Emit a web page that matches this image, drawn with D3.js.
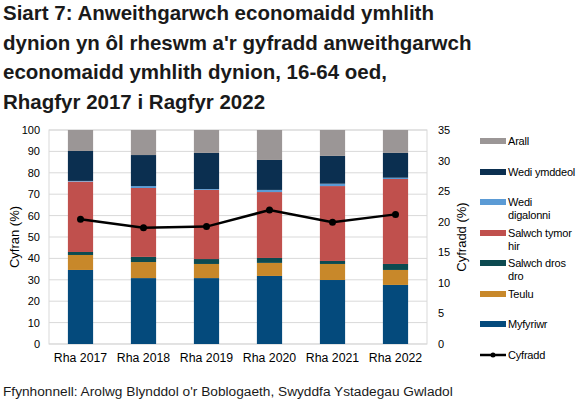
<!DOCTYPE html>
<html>
<head>
<meta charset="utf-8">
<script src="https://cdn.jsdelivr.net/npm/d3@7.9.0/dist/d3.min.js"></script>
<style>
  body { margin: 0; background: #fff; }
  svg { font-family: "Liberation Sans", Arial, sans-serif; }
</style>
</head>
<body>
<svg id="chart" width="584" height="414"></svg>
<script>
// data
const years = ["Rha 2017", "Rha 2018", "Rha 2019", "Rha 2020", "Rha 2021", "Rha 2022"];
const myfyriwr = [34.6, 30.8, 30.8, 31.8, 29.9, 27.6];
const teulu = [7.0, 7.5, 6.6, 6.1, 7.5, 7.0];
const salwchDrosDro = [1.4, 2.4, 2.3, 2.3, 1.4, 2.8];
const salwchTymorHir = [32.9, 32.2, 32.3, 30.8, 35.0, 39.7];
const wediDigalonni = [0.3, 0.9, 0.4, 1.0, 1.1, 0.6];
const wediYmddeol = [14.0, 14.5, 16.9, 14.0, 13.0, 11.6];
const arall = [9.8, 11.7, 10.7, 14.0, 12.1, 10.7];
const cyfradd = [20.4, 19.0, 19.2, 21.9, 19.9, 21.2];

const leftTicks = d3.range(0, 101, 10);
const rightTicks = d3.range(0, 36, 5);

// stack order bottom -> top
const series = [
  { key: "Myfyriwr", values: myfyriwr, color: "#044a7c" },
  { key: "Teulu", values: teulu, color: "#c8882a" },
  { key: "Salwch dros dro", values: salwchDrosDro, color: "#0c4a50" },
  { key: "Salwch tymor hir", values: salwchTymorHir, color: "#c0504d" },
  { key: "Wedi digalonni", values: wediDigalonni, color: "#5b9bd5" },
  { key: "Wedi ymddeol", values: wediYmddeol, color: "#0b2f50" },
  { key: "Arall", values: arall, color: "#9b9696" }
];

const svg = d3.select("#chart");

// title
const titleLines = [
  "Siart 7: Anweithgarwch economaidd ymhlith",
  "dynion yn ôl rheswm a'r gyfradd anweithgarwch",
  "economaidd ymhlith dynion, 16-64 oed,",
  "Rhagfyr 2017 i Ragfyr 2022"
];
svg.append("g").selectAll("text")
  .data(titleLines)
  .join("text")
  .attr("x", 3)
  .attr("y", (d, i) => 20 + i * 29.5)
  .attr("font-size", 20.5)
  .attr("font-weight", "bold")
  .attr("fill", "#1a1a1a")
  .text(d => d);

const plot = { left: 49, right: 427, top: 130, bottom: 344 };

const x = d3.scaleBand()
  .domain(years)
  .range([plot.left, plot.right])
  .paddingInner(0.6)
  .paddingOuter(0.3);

const y = d3.scaleLinear().domain([0, 100]).range([plot.bottom, plot.top]);
const y2 = d3.scaleLinear().domain([0, 35]).range([plot.bottom, plot.top]);

// gridlines
svg.append("g")
  .selectAll("line")
  .data(leftTicks)
  .join("line")
  .attr("x1", plot.left)
  .attr("x2", plot.right)
  .attr("y1", d => y(d))
  .attr("y2", d => y(d))
  .attr("stroke", "#d9d9d9")
  .attr("stroke-width", 1);

svg.append("rect")
  .attr("x", plot.left)
  .attr("y", plot.top)
  .attr("width", plot.right - plot.left)
  .attr("height", plot.bottom - plot.top)
  .attr("fill", "none")
  .attr("stroke", "#d9d9d9");

// stacked bars
const rows = years.map((yr, i) => {
  const r = { year: yr };
  series.forEach(s => { r[s.key] = s.values[i]; });
  return r;
});
const stacked = d3.stack().keys(series.map(s => s.key))(rows);

svg.append("g")
  .selectAll("g")
  .data(stacked)
  .join("g")
  .attr("fill", (d, i) => series[i].color)
  .selectAll("rect")
  .data(d => d)
  .join("rect")
  .attr("x", d => x(d.data.year))
  .attr("width", x.bandwidth())
  .attr("y", d => y(d[1]))
  .attr("height", d => y(d[0]) - y(d[1]));

// rate line
const line = d3.line()
  .x((d, i) => x(years[i]) + x.bandwidth() / 2)
  .y(d => y2(d));

svg.append("path")
  .datum(cyfradd)
  .attr("d", line)
  .attr("fill", "none")
  .attr("stroke", "#000")
  .attr("stroke-width", 2.5);

svg.append("g")
  .selectAll("circle")
  .data(cyfradd)
  .join("circle")
  .attr("cx", (d, i) => x(years[i]) + x.bandwidth() / 2)
  .attr("cy", d => y2(d))
  .attr("r", 3.5)
  .attr("fill", "#000");

// axes
const axisLeft = d3.axisLeft(y).tickValues(leftTicks).tickSize(0).tickPadding(9);
const gl = svg.append("g").attr("transform", `translate(${plot.left},0)`).call(axisLeft);
gl.select(".domain").remove();
gl.selectAll("text").attr("font-size", 11).attr("fill", "#000").attr("font-family", "Liberation Sans, Arial, sans-serif");

const axisRight = d3.axisRight(y2).tickValues(rightTicks).tickSize(0).tickPadding(11);
const gr = svg.append("g").attr("transform", `translate(${plot.right},0)`).call(axisRight);
gr.select(".domain").remove();
gr.selectAll("text").attr("font-size", 11).attr("fill", "#000").attr("font-family", "Liberation Sans, Arial, sans-serif");

const axisBottom = d3.axisBottom(x).tickSize(0).tickPadding(9);
const gb = svg.append("g").attr("transform", `translate(0,${plot.bottom})`).call(axisBottom);
gb.select(".domain").remove();
gb.selectAll("text").attr("font-size", 12.3).attr("fill", "#000").attr("font-family", "Liberation Sans, Arial, sans-serif");

// axis titles
svg.append("text")
  .attr("transform", `translate(19,${(plot.top + plot.bottom) / 2}) rotate(-90)`)
  .attr("text-anchor", "middle")
  .attr("font-size", 13)
  .text("Cyfran (%)");

svg.append("text")
  .attr("transform", `translate(466,${(plot.top + plot.bottom) / 2}) rotate(-90)`)
  .attr("text-anchor", "middle")
  .attr("font-size", 13)
  .text("Cyfradd (%)");

// legend (top -> bottom)
const legendItems = [
  { lines: ["Arall"], color: "#9b9696", y: 141 },
  { lines: ["Wedi ymddeol"], color: "#0b2f50", y: 172 },
  { lines: ["Wedi", "digalonni"], color: "#5b9bd5", y: 202 },
  { lines: ["Salwch tymor", "hir"], color: "#c0504d", y: 233 },
  { lines: ["Salwch dros", "dro"], color: "#0c4a50", y: 263 },
  { lines: ["Teulu"], color: "#c8882a", y: 294 },
  { lines: ["Myfyriwr"], color: "#044a7c", y: 324 }
];

const lg = svg.append("g");
legendItems.forEach(it => {
  lg.append("rect")
    .attr("x", 480)
    .attr("y", it.y - 3)
    .attr("width", 26)
    .attr("height", 6)
    .attr("fill", it.color);
  it.lines.forEach((t, j) => {
    lg.append("text")
      .attr("x", 508)
      .attr("y", it.y + 4 + j * 12.5)
      .attr("font-size", 11)
      .attr("letter-spacing", -0.2)
      .text(t);
  });
});
lg.append("line")
  .attr("x1", 480).attr("x2", 506)
  .attr("y1", 355).attr("y2", 355)
  .attr("stroke", "#000").attr("stroke-width", 2.5);
lg.append("circle").attr("cx", 493).attr("cy", 355).attr("r", 2.5).attr("fill", "#000");
lg.append("text").attr("x", 508).attr("y", 359).attr("font-size", 11).attr("letter-spacing", -0.2).text("Cyfradd");

// source
svg.append("text")
  .attr("x", 3)
  .attr("y", 396)
  .attr("font-size", 13.7)
  .attr("fill", "#1a1a1a")
  .text("Ffynhonnell: Arolwg Blynddol o'r Boblogaeth, Swyddfa Ystadegau Gwladol");
</script>
</body>
</html>
